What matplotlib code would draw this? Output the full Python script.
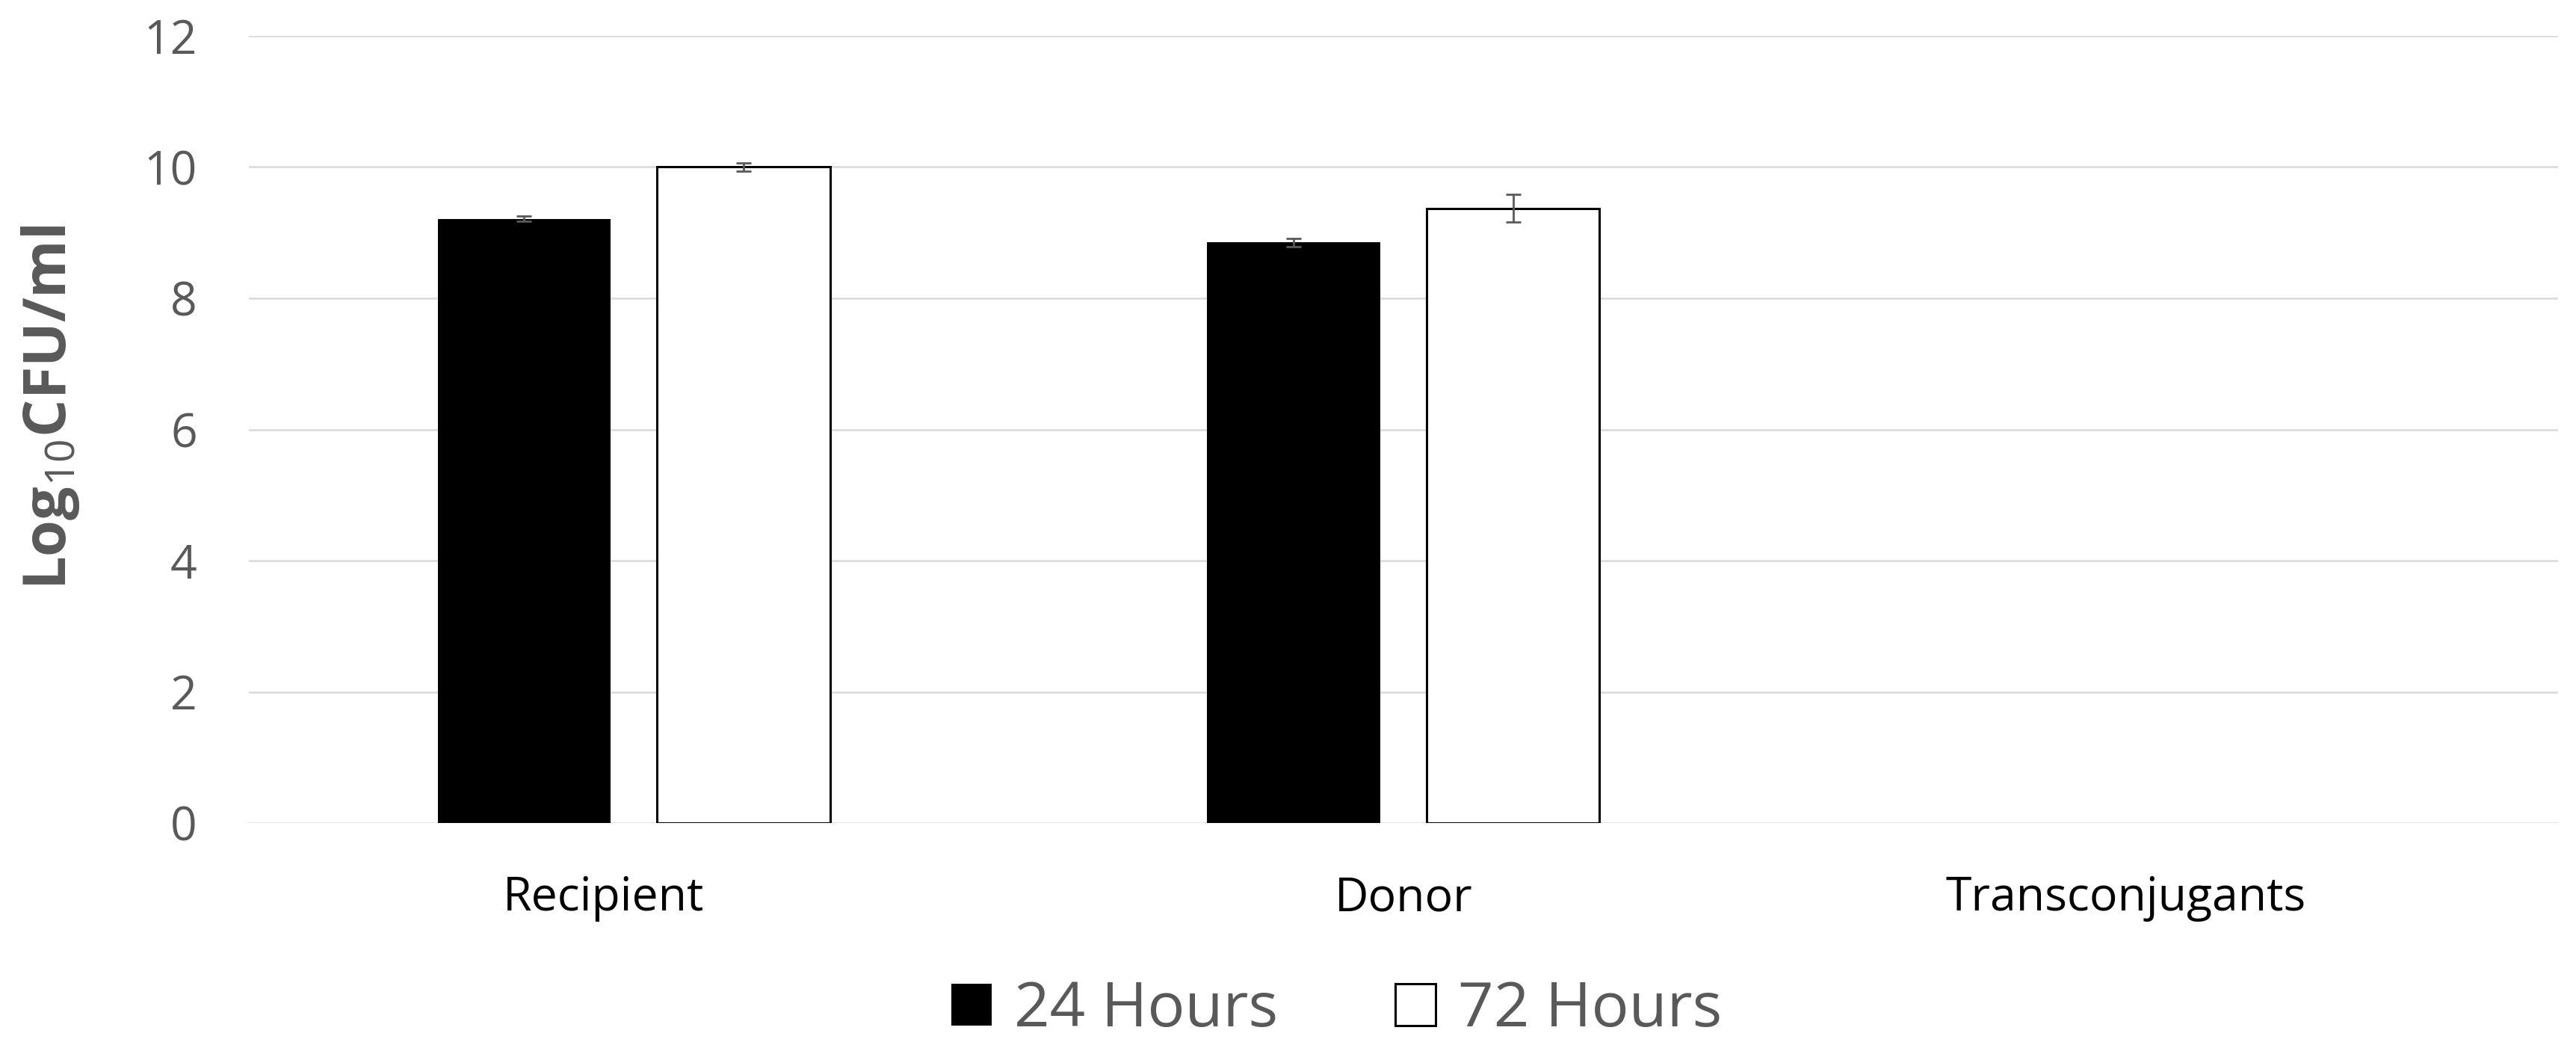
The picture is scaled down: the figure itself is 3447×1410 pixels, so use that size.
import numpy as np
import matplotlib
matplotlib.use('Agg')
import matplotlib.pyplot as plt
import matplotlib.transforms as mtransforms

categories = ['Recipient', 'Donor', 'Transconjugants']
hours_24 = [9.21, 8.85, np.nan]
hours_24_err = [0.04, 0.058, np.nan]
hours_72 = [10.0, 9.37, np.nan]
hours_72_err = [0.06, 0.21, np.nan]
series_labels = ['24 Hours', '72 Hours']
y_ticks = [0, 2, 4, 6, 8, 10, 12]

grey = '#595959'
bar_w = 0.225
offset = 0.1424
# the category labels in the original sit a little left of their bars (pixels)
label_shift = [-41, 0, -63]

plt.rcParams['font.family'] = ['Open Sans', 'DejaVu Sans']
plt.rcParams['mathtext.fontset'] = 'custom'
plt.rcParams['mathtext.rm'] = 'Open Sans'
plt.rcParams['mathtext.bf'] = 'Open Sans:bold'


def plot():
    fig = plt.figure(figsize=(34.48, 14.10), dpi=100)
    ax = fig.add_axes([0.0966, 0.219, 0.8961, 0.747])

    x = np.arange(len(categories))
    err_style = dict(ecolor=grey, elinewidth=2, capsize=7, capthick=2)
    ax.bar(x - offset, hours_24, bar_w, color='black', label=series_labels[0],
           yerr=hours_24_err, error_kw=err_style, zorder=3)
    ax.bar(x + offset, hours_72, bar_w, color='white', edgecolor='black',
           linewidth=2.2, label=series_labels[1],
           yerr=hours_72_err, error_kw=err_style, zorder=3)

    ax.set_xlim(-0.5, 2.5)
    ax.set_ylim(0, 12)
    ax.set_yticks(y_ticks)
    ax.set_xticks(x)
    ax.set_xticklabels(categories)
    ax.grid(axis='y', color='#d9d9d9', linewidth=1.8, zorder=0)
    ax.set_axisbelow(True)
    for s in ax.spines.values():
        s.set_visible(False)
    ax.tick_params(axis='y', length=0, pad=50, labelsize=45, labelcolor=grey)
    ax.tick_params(axis='x', length=0, pad=50, labelsize=45, labelcolor='black')

    for lbl, dx in zip(ax.get_xticklabels(), label_shift):
        lbl.set_transform(lbl.get_transform() +
                          mtransforms.ScaledTranslation(dx / 100, 0, fig.dpi_scale_trans))

    fig.text(0.0255, 0.6135, r'Log$_{\mathrm{10}}$CFU/ml', rotation=90,
             rotation_mode='anchor', ha='center', va='baseline',
             fontsize=57, fontweight='bold', color=grey)

    fig.legend(loc='center', bbox_to_anchor=(0.5187, 0.041), ncol=2,
               frameon=False, fontsize=60, labelcolor=grey,
               handlelength=0.65, handleheight=0.65, handletextpad=0.36,
               columnspacing=1.88)

    fig.savefig('out.png', dpi=100)


plot()
